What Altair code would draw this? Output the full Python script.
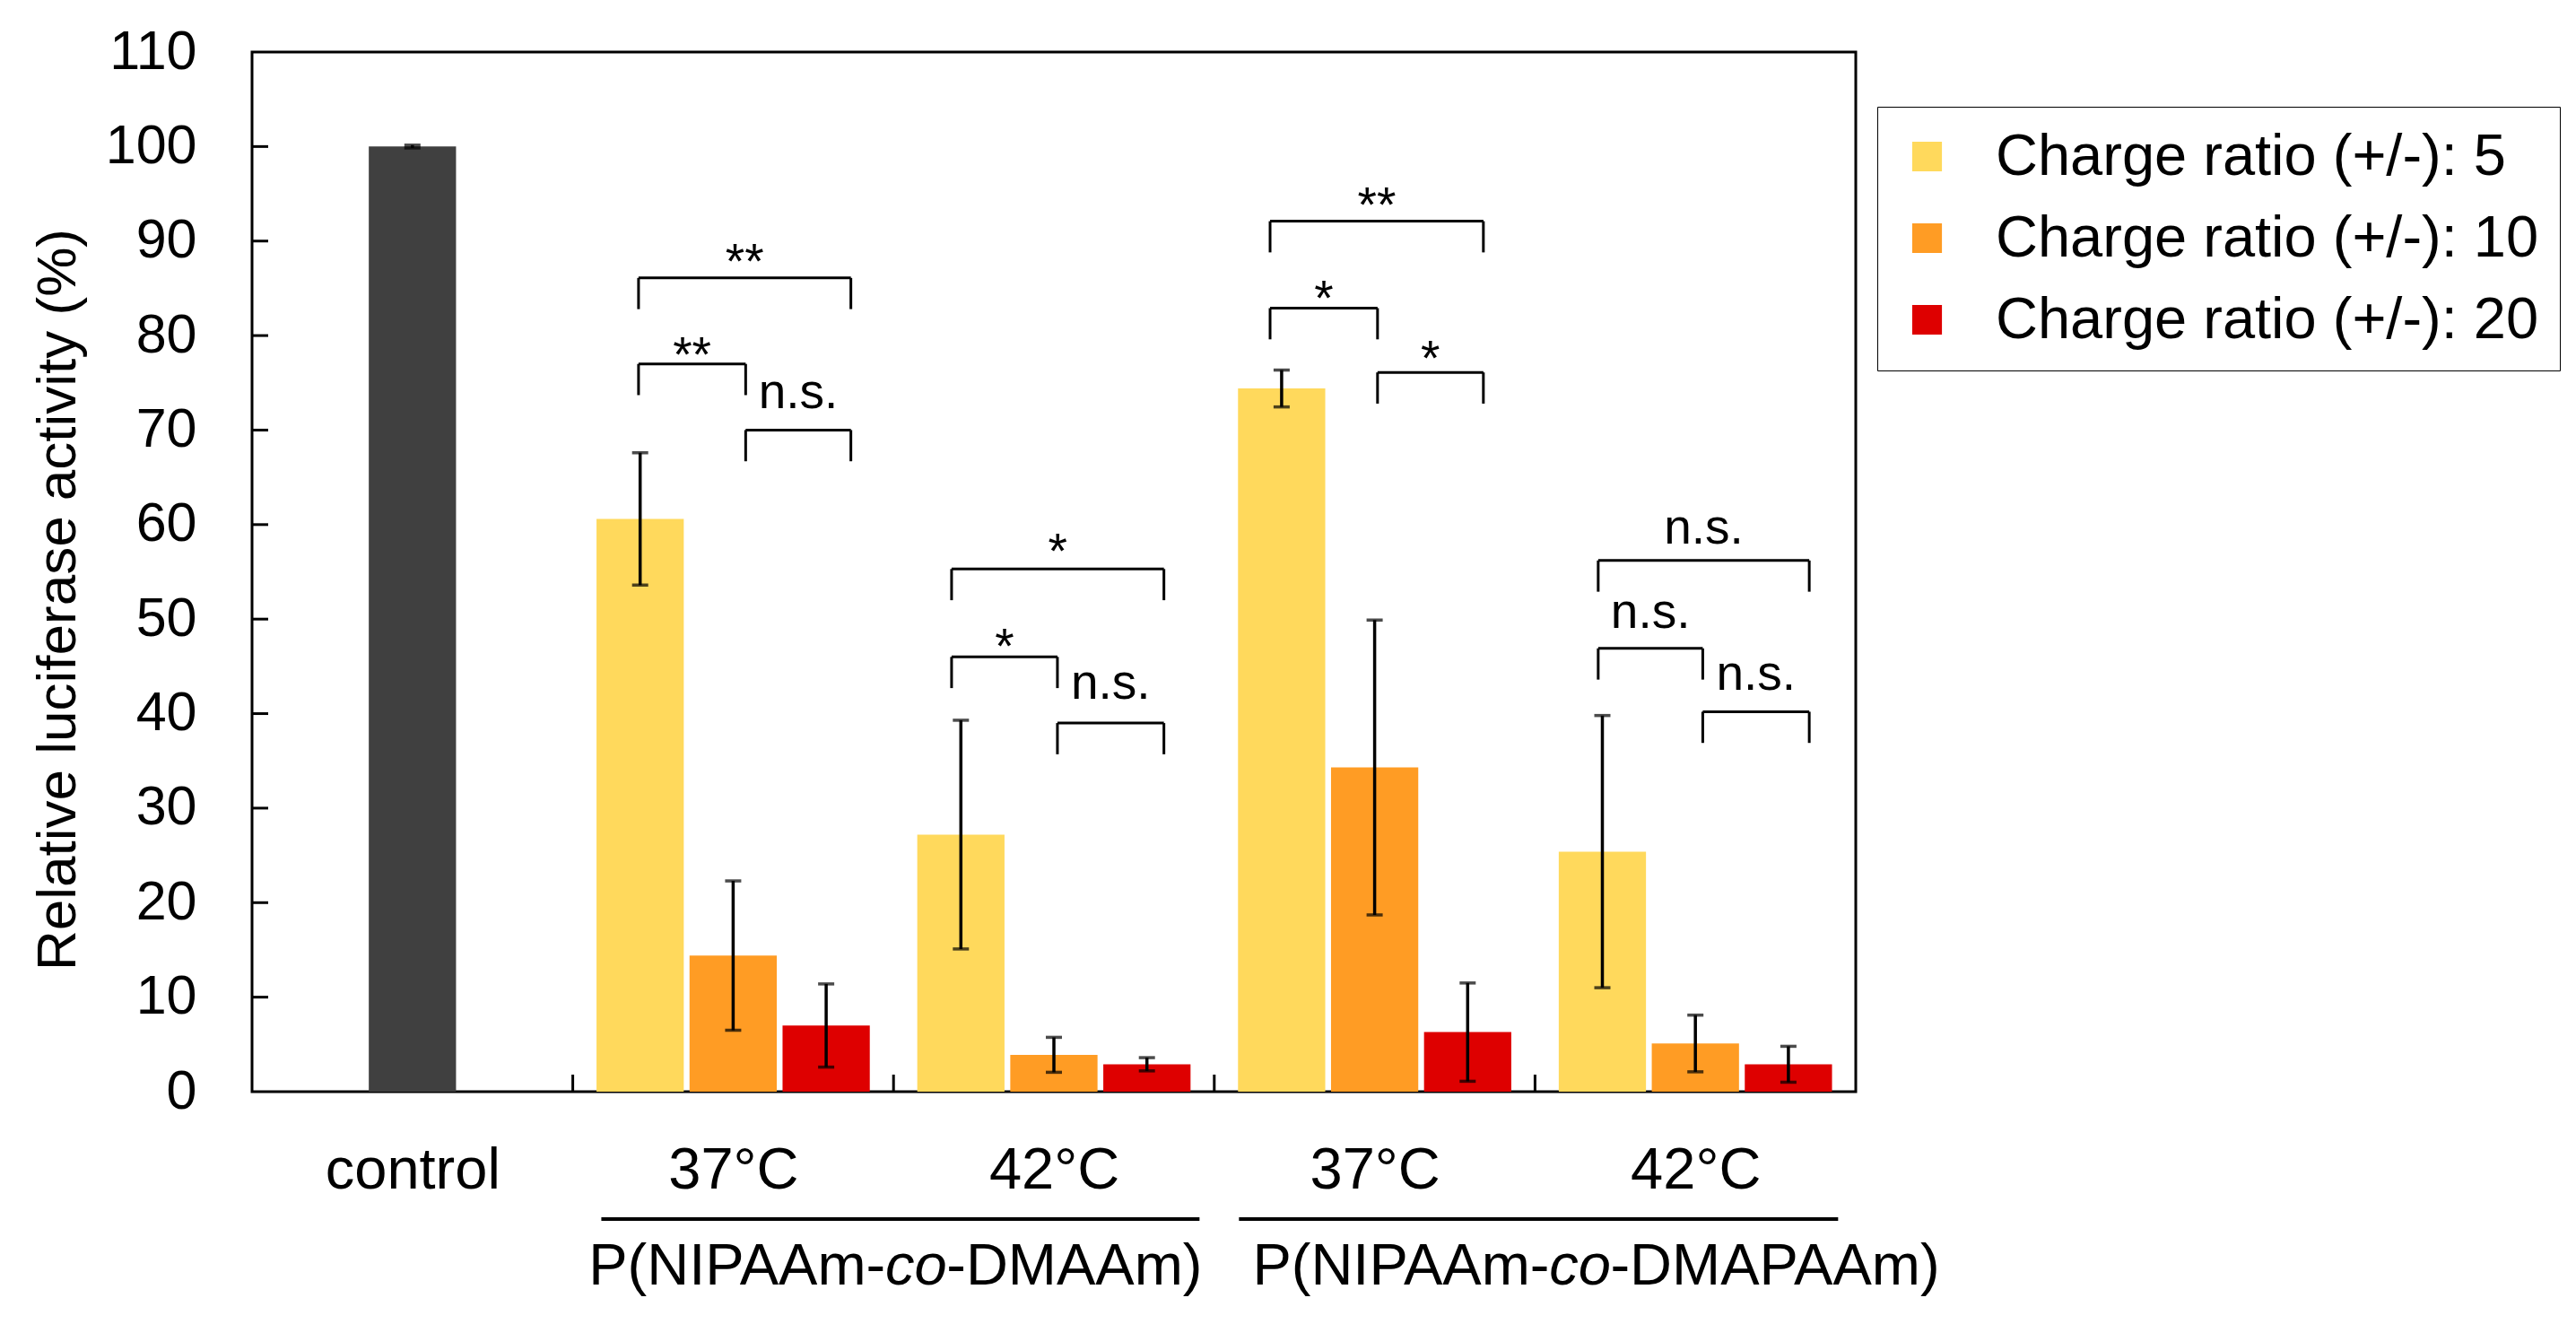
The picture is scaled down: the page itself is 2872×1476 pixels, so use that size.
import json

import altair as alt
import pandas as pd

FONT = "Liberation Sans"

# ---- data ----
categories = ["control", "37°C", "42°C", "37°C", "42°C"]
series_names = [
    "Charge ratio (+/-): 5",
    "Charge ratio (+/-): 10",
    "Charge ratio (+/-): 20",
]
series_colors = ["#FFD95C", "#FF9C24", "#DE0000"]
control_color = "#404040"

control_mean = [100.0]
control_err = [0.15]

cr5_mean = [60.6, 27.2, 74.4, 25.4]
cr5_err = [7.0, 12.1, 1.95, 14.4]
cr10_mean = [14.4, 3.9, 34.3, 5.1]
cr10_err = [7.9, 1.85, 15.6, 3.0]
cr20_mean = [7.0, 2.9, 6.3, 2.9]
cr20_err = [4.4, 0.7, 5.2, 1.9]

# significance brackets (x in category units, y in %)
bracket_x1 = [1.205, 1.205, 1.539, 2.181, 2.181, 2.511, 3.174, 3.174, 3.509, 4.197, 4.197, 4.523]
bracket_x2 = [1.867, 1.539, 1.867, 2.843, 2.511, 2.843, 3.839, 3.509, 3.839, 4.855, 4.523, 4.855]
bracket_y = [86.1, 77.0, 70.0, 55.3, 46.0, 39.0, 92.1, 82.9, 76.1, 56.2, 46.9, 40.2]
bracket_text = ["**", "**", "n.s.", "*", "*", "n.s.", "**", "*", "*", "n.s.", "n.s.", "n.s."]
bracket_text_y = [86.1, 76.2, 72.3, 55.4, 45.4, 41.6, 92.1, 82.2, 75.8, 58.0, 49.1, 42.5]

polymer_prefix = "P(NIPAAm-"
polymer_infix = "co"
polymer_suffix = ["-DMAAm)", "-DMAPAAm)"]
polymer_co_x = [2.07, 4.14]
polymer_line_x1 = [1.089, 3.077]
polymer_line_x2 = [2.954, 4.945]

y_ticks = list(range(0, 111, 10))
dividers = [1, 2, 3, 4]

# ---- layout ----
W, H = 1788, 1159
BAR_OFFSETS = [0.21, 0.5, 0.79]
HALF = 0.136
LEG = 3.3

means = [cr5_mean, cr10_mean, cr20_mean]
errs = [cr5_err, cr10_err, cr20_err]
rows = []
for s, name in enumerate(series_names):
    for g in range(4):
        xc = g + 1 + BAR_OFFSETS[s]
        rows.append({"series": name, "xc": xc, "x1": xc - HALF, "x2": xc + HALF,
                     "mean": means[s][g], "lo": means[s][g] - errs[s][g],
                     "hi": means[s][g] + errs[s][g]})
bars = pd.DataFrame(rows)

control = pd.DataFrame({"xc": [0.5], "mean": control_mean})
control["x1"] = control["xc"] - HALF
control["x2"] = control["xc"] + HALF
control["lo"] = control["mean"] - pd.Series(control_err)
control["hi"] = control["mean"] + pd.Series(control_err)
err_all = pd.concat([control[["xc", "lo", "hi"]], bars[["xc", "lo", "hi"]]])

brk = pd.DataFrame({"x1": bracket_x1, "x2": bracket_x2, "y": bracket_y,
                    "text": bracket_text, "ty": bracket_text_y})
brk["xm"] = (brk["x1"] + brk["x2"]) / 2
brk["yl"] = brk["y"] - LEG
legs = pd.concat([
    brk[["x1", "y", "yl"]].rename(columns={"x1": "x"}),
    brk[["x2", "y", "yl"]].rename(columns={"x2": "x"}),
])

poly = pd.DataFrame({"x": polymer_co_x, "suffix": polymer_suffix,
                     "lx1": polymer_line_x1, "lx2": polymer_line_x2})
poly["prefix"] = polymer_prefix
poly["infix"] = polymer_infix

xscale = alt.Scale(domain=[0, 5], nice=False, zero=False)
yscale = alt.Scale(domain=[0, 110], nice=False)

label_expr = json.dumps(categories, ensure_ascii=False) + "[floor(datum.value)]"
xaxis = alt.Axis(values=[0.5, 1.5, 2.5, 3.5, 4.5], labelExpr=label_expr, ticks=False,
                 tickSize=0, domain=False, grid=False, labelFontSize=65, labelFont=FONT,
                 labelColor="black", labelPadding=107, labelBaseline="alphabetic",
                 labelFlush=False, labelLimit=0, labelOverlap=False, title=None)
yaxis = alt.Axis(values=y_ticks, ticks=False, tickSize=0, domain=False, grid=False,
                 labelFontSize=61, labelFont=FONT, labelColor="black", labelPadding=62,
                 title="Relative luciferase activity (%)", titleFont=FONT,
                 titleFontSize=62, titleFontWeight="normal", titleColor="black",
                 titleAngle=270, titleAlign="center", titleBaseline="middle",
                 titleX=-217, titleY=610)


def X(field):
    return alt.X(f"{field}:Q", scale=xscale, axis=xaxis)


def Y(field):
    return alt.Y(f"{field}:Q", scale=yscale, axis=yaxis)


control_bar = alt.Chart(control).mark_rect(color=control_color).encode(
    x=X("x1"), x2="x2", y=Y("mean"), y2=alt.datum(0))

series_bars = alt.Chart(bars).mark_rect().encode(
    x=X("x1"), x2="x2", y=Y("mean"), y2=alt.datum(0),
    color=alt.Color("series:N", scale=alt.Scale(domain=series_names, range=series_colors),
                    legend=alt.Legend(orient="none", legendX=1812, legendY=61, title=None,
                                      strokeColor="black", fillColor="white", padding=23,
                                      symbolType="square", symbolSize=1100,
                                      symbolStrokeWidth=0, symbolOpacity=1,
                                      labelFontSize=65, labelFont=FONT, labelColor="black",
                                      rowPadding=25, labelOffset=44, labelLimit=0)))

err_line = alt.Chart(err_all).mark_rule(color="black", strokeWidth=3.5).encode(
    x=X("xc"), y=Y("lo"), y2="hi")
err_lo = alt.Chart(err_all).mark_tick(color="black", orient="horizontal", size=18,
                                      thickness=3.5).encode(x=X("xc"), y=Y("lo"))
err_hi = alt.Chart(err_all).mark_tick(color="black", orient="horizontal", size=18,
                                      thickness=3.5).encode(x=X("xc"), y=Y("hi"))

brk_top = alt.Chart(brk).mark_rule(color="black", strokeWidth=3).encode(
    x=X("x1"), x2="x2", y=Y("y"))
brk_legs = alt.Chart(legs).mark_rule(color="black", strokeWidth=3).encode(
    x=X("x"), y=Y("yl"), y2="y")
brk_text = alt.Chart(brk).mark_text(font=FONT, fontSize=55, color="black", align="center",
                                    baseline="alphabetic").encode(
    x=X("xm"), y=Y("ty"), text="text:N")

y_inner_ticks = alt.Chart(pd.DataFrame({"v": y_ticks[1:-1]})).mark_rule(
    color="black", strokeWidth=3).encode(x=alt.value(0), x2=alt.value(18), y=Y("v"))
x_dividers = alt.Chart(pd.DataFrame({"d": dividers})).mark_rule(
    color="black", strokeWidth=3).encode(x=X("d"), y=alt.value(H), y2=alt.value(H - 19))

poly_lines = alt.Chart(poly).mark_rule(color="black", strokeWidth=4).encode(
    x=X("lx1"), x2="lx2", y=alt.value(H + 142))
poly_pre = alt.Chart(poly).mark_text(font=FONT, fontSize=65, color="black", align="right",
                                     baseline="alphabetic", dx=-34).encode(
    x=X("x"), y=alt.value(H + 215), text="prefix:N")
poly_co = alt.Chart(poly).mark_text(font=FONT, fontSize=65, color="black", align="center",
                                    baseline="alphabetic", fontStyle="italic").encode(
    x=X("x"), y=alt.value(H + 215), text="infix:N")
poly_suf = alt.Chart(poly).mark_text(font=FONT, fontSize=65, color="black", align="left",
                                     baseline="alphabetic", dx=34).encode(
    x=X("x"), y=alt.value(H + 215), text="suffix:N")

chart = (
    alt.layer(control_bar, series_bars, err_line, err_lo, err_hi, brk_top, brk_legs,
              brk_text, y_inner_ticks, x_dividers, poly_lines, poly_pre, poly_co, poly_suf)
    .properties(width=W, height=H,
                padding={"left": 273, "top": 50, "right": 790, "bottom": 240},
                autosize=alt.AutoSizeParams(type="none"), background="white")
    .configure_view(stroke="black", strokeWidth=3)
)

chart.save("out.html", embed_options={"renderer": "svg", "actions": False})
